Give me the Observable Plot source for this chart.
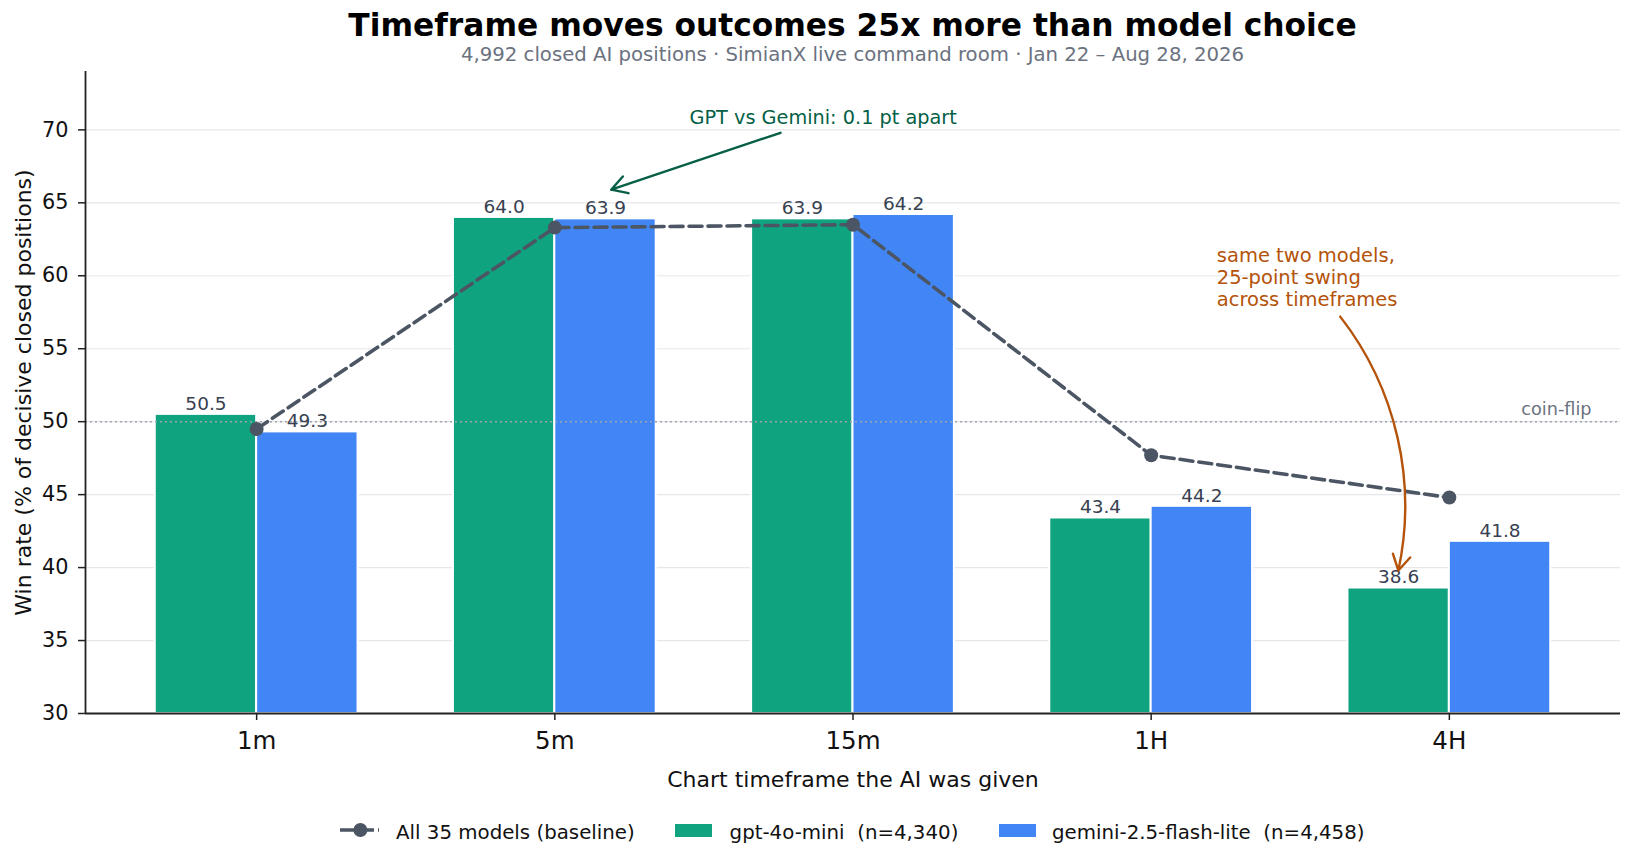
<!DOCTYPE html>
<html><head><meta charset="utf-8">
<script src="https://cdn.jsdelivr.net/npm/d3@7"></script>
<script src="https://cdn.jsdelivr.net/npm/@observablehq/plot@0.6"></script>
<style>
html,body{margin:0;padding:0;background:#fff;}
body{font-family:"DejaVu Sans",sans-serif;}
#wrap{width:1635px;height:864px;position:relative;overflow:hidden;}
#head{position:relative;height:62px;}
#head .title{position:absolute;left:85px;width:1535px;top:10.6px;text-align:center;font-size:31.3px;line-height:28px;font-weight:bold;color:#000;white-space:nowrap;}
#head .sub{position:absolute;left:85px;width:1535px;top:44.6px;text-align:center;font-size:19.7px;line-height:19.7px;color:#6b7280;white-space:nowrap;}
#chart svg{display:block;}
#legend{position:relative;height:72px;}
#legend .sw{position:absolute;}
#legend .lt{position:absolute;top:30.5px;font-size:19.8px;line-height:1;color:#111;white-space:pre;}
</style></head><body>
<div id="wrap">
  <div id="head">
    <div class="title">Timeframe moves outcomes 25x more than model choice</div>
    <div class="sub">4,992 closed AI positions · SimianX live command room · Jan 22 – Aug 28, 2026</div>
  </div>
  <div id="chart"></div>
  <div id="legend"></div>
</div>
<script>
// ---- data ----
const timeframes = ["1m", "5m", "15m", "1H", "4H"];
const gptWinRate = [50.5, 64.0, 63.9, 43.4, 38.6];
const geminiWinRate = [49.3, 63.9, 64.2, 44.2, 41.8];
const baselineWinRate = [49.5, 63.3, 63.5, 47.7, 44.8];
const yTicks = [30, 35, 40, 45, 50, 55, 60, 65, 70];
const gridTicks = [35, 40, 45, 50, 55, 60, 65, 70];
const coinFlipLevel = [50];
const seriesNames = ["All 35 models (baseline)", "gpt-4o-mini  (n=4,340)", "gemini-2.5-flash-lite  (n=4,458)"];
const seriesColors = ["#4b5563", "#10a37f", "#4285f4"];
const greenNote = [{x: 1.9, y: 70.4, text: "GPT vs Gemini: 0.1 pt apart"}];
const greenArrow = [{x1: 1.757, y1: 69.8, x2: 1.189, y2: 65.9}];
const orangeNote = [{x: 3.22, y: 60.98, text: "same two models,\n25-point swing\nacross timeframes"}];
const orangeArrow = [{x1: 3.634, y1: 57.2, x2: 3.829, y2: 39.8}];
const coinFlipNote = [{x: 4.477, y: 50, text: "coin-flip"}];

const barWidth = 0.34;
const yFloor = 30, yTop = 74;
const xDomain = [-0.574, 4.574];

const bars = [];
timeframes.forEach((tf, i) => {
  bars.push({i, tf, model: "gpt", value: gptWinRate[i], color: seriesColors[1]});
  bars.push({i, tf, model: "gemini", value: geminiWinRate[i], color: seriesColors[2]});
});
const baseline = timeframes.map((tf, i) => ({i, tf, value: baselineWinRate[i]}));

const barX1 = d => d.model === "gpt" ? d.i - barWidth : d.i;
const barX2 = d => d.model === "gpt" ? d.i : d.i + barWidth;
const barXc = d => d.model === "gpt" ? d.i - barWidth / 2 : d.i + barWidth / 2;

const chart = Plot.plot({
  width: 1635,
  height: 730,
  marginLeft: 85,
  marginRight: 15,
  marginTop: 9,
  marginBottom: 79,
  style: {fontFamily: "DejaVu Sans", background: "#fff", overflow: "visible"},
  x: {type: "linear", domain: xDomain},
  y: {type: "linear", domain: [yFloor, yTop]},
  marks: [
    Plot.ruleY(gridTicks, {stroke: "#e5e7eb", strokeWidth: 1.2}),
    Plot.rect(bars, {x1: barX1, x2: barX2, y1: () => yFloor, y2: "value", fill: "color", stroke: "#fff", strokeWidth: 2}),
    Plot.ruleY(coinFlipLevel, {stroke: "#9ca3af", strokeWidth: 1.6, strokeDasharray: "2 3"}),
    Plot.text(bars, {x: barXc, y: "value", text: d => d.value.toFixed(1), dy: -10.5, fill: "#374151", fontSize: 18.5}),
    Plot.line(baseline, {x: "i", y: "value", stroke: seriesColors[0], strokeWidth: 3.6, strokeDasharray: "13 6"}),
    Plot.dot(baseline, {x: "i", y: "value", r: 7, fill: seriesColors[0], stroke: "none"}),
    Plot.text(coinFlipNote, {x: "x", y: "y", text: "text", textAnchor: "end", dy: -12.5, fill: "#6b7280", fontSize: 17.7}),
    Plot.text(greenNote, {x: "x", y: "y", text: "text", dy: -6, fill: "#065f46", fontSize: 19.3}),
    Plot.arrow(greenArrow, {x1: "x1", y1: "y1", x2: "x2", y2: "y2", stroke: "#065f46", strokeWidth: 2.4, headLength: 11}),
    Plot.text(orangeNote, {x: "x", y: "y", text: "text", textAnchor: "start", lineAnchor: "top", lineHeight: 1.13, dy: -15.5, fill: "#b45309", fontSize: 19.5}),
    Plot.arrow(orangeArrow, {x1: "x1", y1: "y1", x2: "x2", y2: "y2", bend: 25, stroke: "#b45309", strokeWidth: 2.4, headLength: 11}),
    Plot.axisY({ticks: yTicks, tickSize: 7, tickPadding: 10, fontSize: 20.8, color: "#111", stroke: "#222", strokeWidth: 1.5, label: null, tickFormat: d => String(d)}),
    Plot.axisX({ticks: timeframes.map((_, i) => i), tickSize: 7, tickPadding: 11, fontSize: 24.5, color: "#111", stroke: "#222", strokeWidth: 1.5, label: null, tickFormat: i => timeframes[i]}),
    Plot.ruleY([yFloor], {stroke: "#222", strokeWidth: 1.8}),
    Plot.ruleX([xDomain[0]], {stroke: "#222", strokeWidth: 1.8}),
    Plot.text(["Chart timeframe the AI was given"], {frameAnchor: "bottom", lineAnchor: "middle", textAnchor: "middle", dy: 66, fontSize: 22, fill: "#111"}),
    Plot.text(["Win rate (% of decisive closed positions)"], {frameAnchor: "left", textAnchor: "middle", lineAnchor: "middle", dx: -62, rotate: -90, fontSize: 22, fill: "#111"})
  ]
});
document.getElementById("chart").appendChild(chart);

// ---- legend ----
const legend = document.getElementById("legend");
const legendItems = [
  {kind: "line", swatchLeft: 339.6, textLeft: 396},
  {kind: "patch", swatchLeft: 674.6, textLeft: 729.6},
  {kind: "patch", swatchLeft: 999, textLeft: 1052}
];
legendItems.forEach((it, k) => {
  if (it.kind === "line") {
    const ns = "http://www.w3.org/2000/svg";
    const s = document.createElementNS(ns, "svg");
    s.setAttribute("width", 40); s.setAttribute("height", 20);
    s.setAttribute("class", "sw");
    s.style.left = it.swatchLeft + "px"; s.style.top = "28px";
    const ln = document.createElementNS(ns, "line");
    ln.setAttribute("x1", 0); ln.setAttribute("x2", 39); ln.setAttribute("y1", 10); ln.setAttribute("y2", 10);
    ln.setAttribute("stroke", seriesColors[0]); ln.setAttribute("stroke-width", 3.6);
    ln.setAttribute("stroke-dasharray", "34 4");
    const c = document.createElementNS(ns, "circle");
    c.setAttribute("cx", 20.4); c.setAttribute("cy", 10); c.setAttribute("r", 7); c.setAttribute("fill", seriesColors[0]);
    s.appendChild(ln); s.appendChild(c);
    legend.appendChild(s);
  } else {
    const p = document.createElement("div");
    p.className = "sw";
    p.style.left = it.swatchLeft + "px"; p.style.top = "32px";
    p.style.width = "37px"; p.style.height = "12.7px";
    p.style.background = seriesColors[k];
    legend.appendChild(p);
  }
  const t = document.createElement("div");
  t.className = "lt";
  t.style.left = it.textLeft + "px";
  t.textContent = seriesNames[k];
  legend.appendChild(t);
});
</script>
</body></html>
